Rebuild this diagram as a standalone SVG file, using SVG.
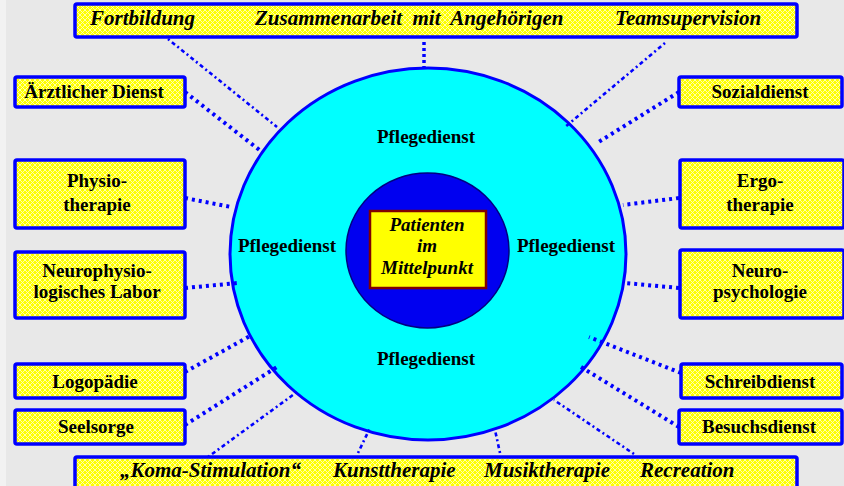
<svg xmlns="http://www.w3.org/2000/svg" width="844" height="486" viewBox="0 0 844 486">
<defs>
<pattern id="hatch" width="5" height="5" patternUnits="userSpaceOnUse">
<rect width="5" height="5" fill="#ffff00"/>
<path d="M0 0L5 5M5 0L0 5" stroke="#ffffb8" stroke-width="0.9"/>
</pattern>
</defs>
<style>
.box{fill:url(#hatch);stroke:#0000ff;stroke-width:3.5}
.t{font-family:"Liberation Serif","Times New Roman","DejaVu Serif",serif;font-weight:bold;font-size:19px;fill:#000;text-anchor:middle}
.ti{font-family:"Liberation Serif","Times New Roman","DejaVu Serif",serif;font-weight:bold;font-style:italic;font-size:21px;fill:#000}
.ci{font-family:"Liberation Serif","Times New Roman","DejaVu Serif",serif;font-weight:bold;font-style:italic;font-size:19px;fill:#000;text-anchor:middle}
.thick{fill:none;stroke:#0000ff;stroke-width:4;stroke-dasharray:3 4}
.thin{fill:none;stroke:#0000ff;stroke-width:2.6;stroke-dasharray:2 3 4 3}
</style>
<rect width="844" height="486" fill="#f2f2f2"/>
<rect x="6" width="838" height="486" fill="#e8e8e8"/>

<g id="circle-outer">
<ellipse cx="428" cy="254" rx="198" ry="186" fill="#00ffff" stroke="#0000ff" stroke-width="3"/>
<text class="t" x="426" y="143">Pflegedienst</text>
<text class="t" x="287" y="252">Pflegedienst</text>
<text class="t" x="566" y="252">Pflegedienst</text>
<text class="t" x="426" y="365">Pflegedienst</text>
</g>
<g id="circle-inner">
<ellipse cx="427.5" cy="250.5" rx="81.5" ry="77.5" fill="#0000f0" stroke="#000080" stroke-width="1.5"/>
</g>
<g id="patienten">
<rect x="370" y="211" width="116" height="77" fill="#ffff00" stroke="#800000" stroke-width="2.5"/>
<text class="ci" x="427" y="231">Patienten</text>
<text class="ci" x="427" y="252">im</text>
<text class="ci" x="427" y="274">Mittelpunkt</text>
</g>

<g id="connectors">
<path class="thin" d="M168 39L277 127"/>
<path class="thick" d="M185 92L262 152"/>
<path class="thick" d="M424 42L424 70" style="stroke-width:3.5;stroke-dasharray:3 3"/>
<path class="thin" d="M665 43L565 127"/>
<path class="thick" d="M679 92L597 143"/>
<path class="thick" d="M185 198L231 207"/>
<path class="thick" d="M185 288L238 283"/>
<path class="thick" d="M679 198L623 205"/>
<path class="thick" d="M679 288L625 283"/>
<path class="thick" d="M185 372L250 336"/>
<path class="thick" d="M185 425L277 367"/>
<path class="thin" d="M208 457L297 392"/>
<path class="thin" d="M358 453L370 428"/>
<path class="thin" d="M500 453L495 430"/>
<path class="thin" d="M634 454L554 400"/>
<path class="thick" d="M681 373L589 337"/>
<path class="thick" d="M679 427L581 367"/>
</g>

<g id="top">
<rect class="box" x="75" y="4" width="722" height="33" rx="2"/>
<text class="ti" x="90" y="25">Fortbildung</text>
<text class="ti" x="255" y="25" xml:space="preserve">Zusammenarbeit  mit  Angehörigen</text>
<text class="ti" x="615" y="25">Teamsupervision</text>
</g>
<g id="bottom">
<rect class="box" x="75" y="457" width="722" height="40" rx="2"/>
<text class="ti" x="120" y="477">„Koma-Stimulation“</text>
<text class="ti" x="333" y="477">Kunsttherapie</text>
<text class="ti" x="484" y="477">Musiktherapie</text>
<text class="ti" x="640" y="477">Recreation</text>
</g>

<g id="aerztlicher-dienst">
<rect class="box" x="15" y="77" width="170" height="30" rx="2"/>
<text class="t" x="94" y="98">Ärztlicher Dienst</text>
</g>
<g id="physiotherapie">
<rect class="box" x="15" y="160" width="170" height="68" rx="2"/>
<text class="t" x="97" y="187">Physio-</text>
<text class="t" x="97" y="211">therapie</text>
</g>
<g id="neurophysiologisches-labor">
<rect class="box" x="15" y="252" width="170" height="66" rx="2"/>
<text class="t" x="97" y="277">Neurophysio-</text>
<text class="t" x="97" y="298">logisches Labor</text>
</g>
<g id="logopaedie">
<rect class="box" x="15" y="364" width="170" height="34" rx="2"/>
<text class="t" x="95" y="388">Logopädie</text>
</g>
<g id="seelsorge">
<rect class="box" x="15" y="410" width="170" height="34" rx="2"/>
<text class="t" x="96" y="433">Seelsorge</text>
</g>
<g id="sozialdienst">
<rect class="box" x="679" y="77" width="163" height="30" rx="2"/>
<text class="t" x="760" y="98">Sozialdienst</text>
</g>
<g id="ergotherapie">
<rect class="box" x="680" y="160" width="164" height="68" rx="2"/>
<text class="t" x="760" y="187">Ergo-</text>
<text class="t" x="760" y="211">therapie</text>
</g>
<g id="neuropsychologie">
<rect class="box" x="680" y="250" width="164" height="68" rx="2"/>
<text class="t" x="760" y="277">Neuro-</text>
<text class="t" x="760" y="298">psychologie</text>
</g>
<g id="schreibdienst">
<rect class="box" x="681" y="364" width="161" height="34" rx="2"/>
<text class="t" x="760" y="388">Schreibdienst</text>
</g>
<g id="besuchsdienst">
<rect class="box" x="679" y="410" width="163" height="34" rx="2"/>
<text class="t" x="759" y="433">Besuchsdienst</text>
</g>
</svg>
